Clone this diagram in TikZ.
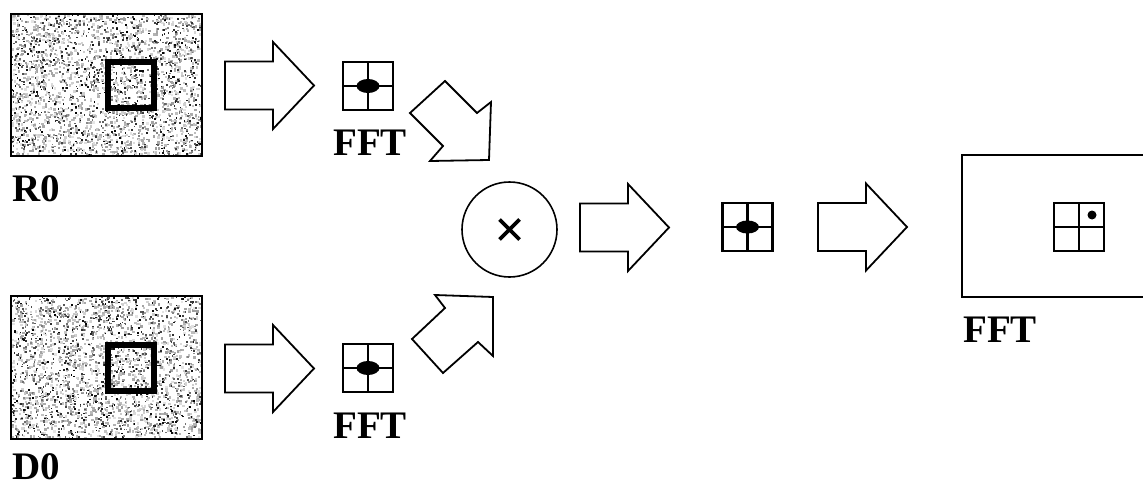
\documentclass[tikz,border=0pt]{standalone}
\usepackage{fontspec}
\setmainfont{Liberation Serif}

% random speckle texture inside a rectangle: #1,#2 = top-left, #3,#4 = bottom-right, #5 = seed
\newcommand\specklefill[5]{%
  \pgfmathsetseed{#5}%
  \foreach \k in {1,...,1500}{%
    \pgfmathsetmacro\px{#1+rnd*(#3-#1-2.4)}%
    \pgfmathsetmacro\py{#2+rnd*(#4-#2-2.4)}%
    \pgfmathsetmacro\pg{int(10+rnd*30)}%
    \fill[black!\pg] (\px,\py) rectangle ++(2.4,2.4);
  }%
  \foreach \k in {1,...,1100}{%
    \pgfmathsetmacro\px{#1+rnd*(#3-#1-1.7)}%
    \pgfmathsetmacro\py{#2+rnd*(#4-#2-1.7)}%
    \pgfmathsetmacro\pg{int(45+rnd*55)}%
    \fill[black!\pg] (\px,\py) rectangle ++(1.7,1.7);
  }%
}

\begin{document}
\begin{tikzpicture}[x=1pt,y=-1pt,
  frame/.style={draw=black,line width=1.8pt,inner sep=0pt},
  window/.style={draw=black,line width=6pt},
  blockarrow/.style={draw=black,line width=1.8pt,fill=white,line join=miter},
  caption/.style={font=\fontsize{39}{47}\selectfont\bfseries,inner sep=0pt},
  fftgrid/.pic={
    \draw[line width=2.2pt] (-25,-24) rectangle (25,24);
    \draw[line width=2.2pt] (0,-24) -- (0,24) (-25,0) -- (25,0);
  },
  rarrow/.pic={
    \draw[blockarrow] (0,-24) -- (48,-24) -- (48,-43.5) -- (89,0)
      -- (48,43.5) -- (48,24) -- (0,24) -- cycle;
  }]
\useasboundingbox (0,0) rectangle (1143,487);

% textured input images
\specklefill{11}{14}{202}{156}{17}
\node[frame,minimum width=191pt,minimum height=142pt] (r0) at (106.5,85) {};
\draw[window] (108,62) rectangle (154,108);
\node[caption,anchor=base west] (r0lab) at (12,201) {R0};

\specklefill{11}{296}{202}{439}{29}
\node[frame,minimum width=191pt,minimum height=143pt] (d0) at (106.5,367.5) {};
\draw[window] (108,345) rectangle (154,391);
\node[caption,anchor=base west] (d0lab) at (12,479) {D0};

% FFT of the two windows
\pic (ra) at (225,85.5) {rarrow};
\coordinate (fr) at (368,86);
\pic at (fr) {fftgrid};
\fill (fr) ellipse [x radius=11.5pt, y radius=7pt];
\node[caption,anchor=base] (frlab) at (370,155) {FFT};

\pic (da) at (225,368.5) {rarrow};
\coordinate (fd) at (368,368);
\pic at (fd) {fftgrid};
\fill (fd) ellipse [x radius=11.5pt, y radius=7pt];
\node[caption,anchor=base] (fdlab) at (370,438) {FFT};

% diagonal arrows into the product
\draw[blockarrow] (410,113) -- (445,81) -- (477,113) -- (491,102)
  -- (489,160) -- (430,161) -- (443,146) -- cycle;
\draw[blockarrow] (412,339) -- (443,373) -- (478,342) -- (493,356)
  -- (493,297) -- (435,295) -- (445,308) -- cycle;

% element-wise product
\node[circle,draw,line width=1.6pt,minimum size=95pt,inner sep=0pt] (mul) at (509.5,229.5) {};
\draw[line width=3.6pt] ([shift={(-10,-10)}]mul.center) -- ([shift={(10,10)}]mul.center)
  ([shift={(-10,10)}]mul.center) -- ([shift={(10,-10)}]mul.center);

\pic (ma) at (580,227.5) {rarrow};
\coordinate (fm) at (747.5,227);
\pic at (fm) {fftgrid};
\fill (fm) ellipse [x radius=11.5pt, y radius=6.5pt];

\pic (oa) at (818,227) {rarrow};

% inverse transform result
\draw[line width=1.8pt] (1145,155) -- (962,155) -- (962,297) -- (1145,297);
\coordinate (fo) at (1079,227);
\pic at (fo) {fftgrid};
\fill ([shift={(13,-12)}]fo) circle (4.5pt);
\node[caption,anchor=base west] (folab) at (963,342) {FFT};
\end{tikzpicture}
\end{document}
